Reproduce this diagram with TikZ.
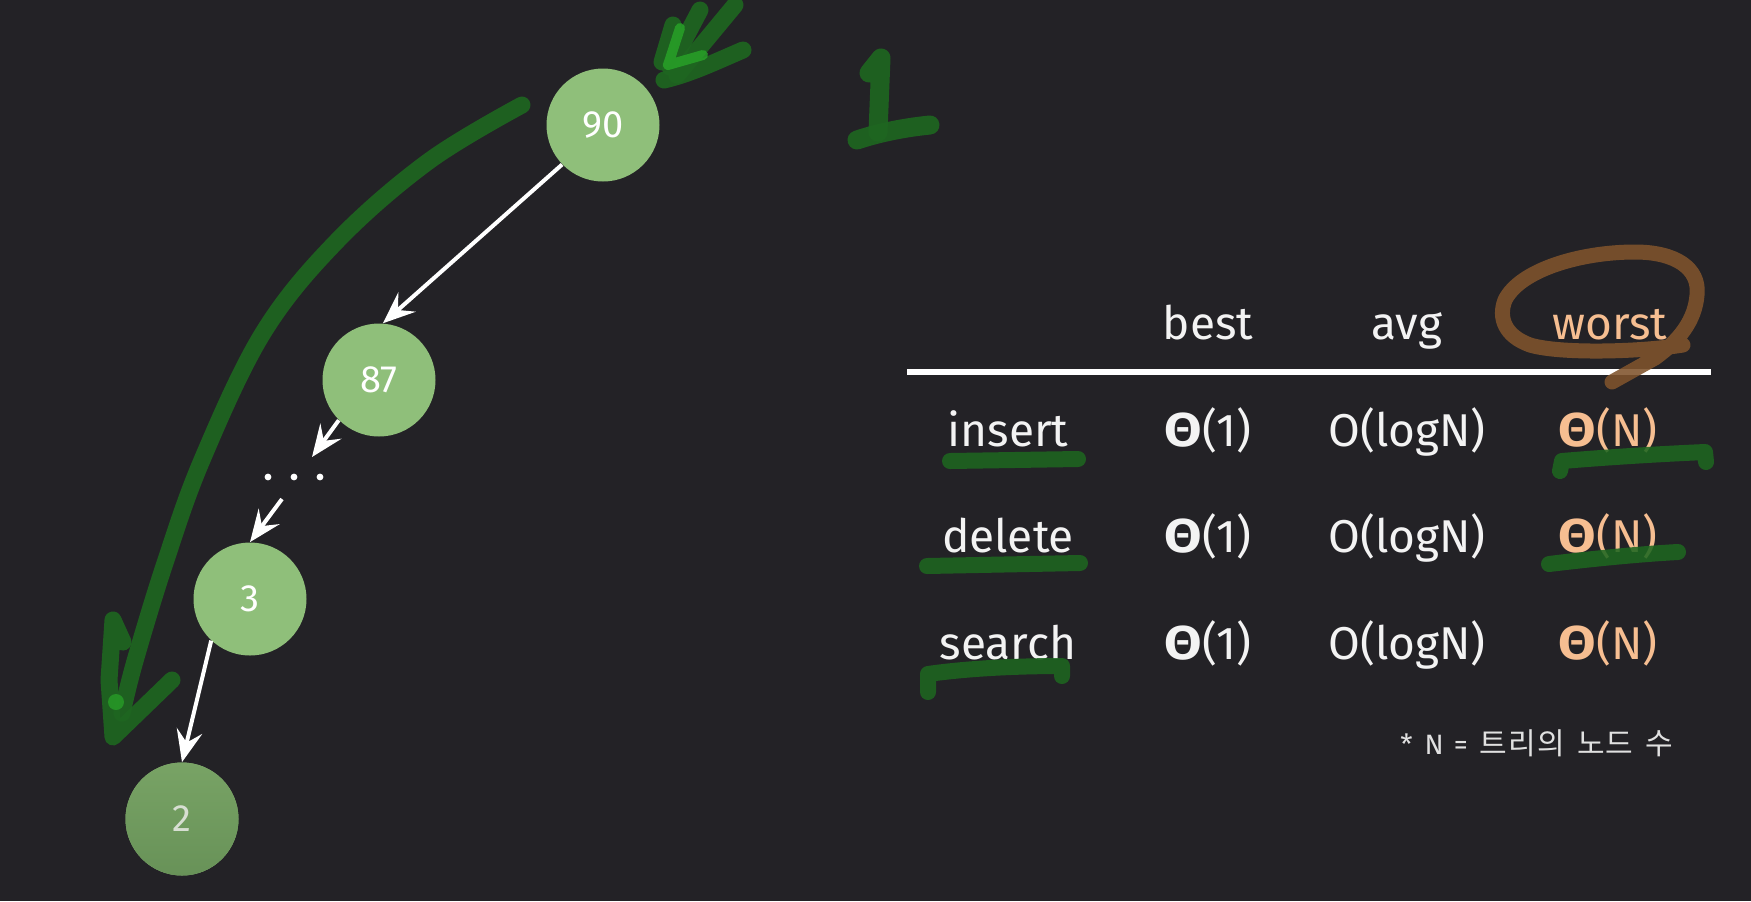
\documentclass[tikz,border=0pt]{standalone}
\usepackage{fontspec}
\usepackage{graphicx}
\setmainfont{Fira Sans}
\newfontfamily\krfont{Noto Sans CJK KR}
\newfontfamily\thfont{Fira Sans Bold}
\usetikzlibrary{arrows.meta}
\definecolor{bg}{RGB}{35,34,38}
\definecolor{ngreen}{RGB}{143,191,122}
\definecolor{ngreenA}{RGB}{120,163,101}
\definecolor{ngreenB}{RGB}{104,146,88}
\definecolor{mgreen}{RGB}{30,102,32}
\definecolor{bgreen}{RGB}{40,165,40}
\definecolor{mbrown}{RGB}{128,84,44}
\definecolor{orng}{RGB}{246,190,145}
\definecolor{txt}{RGB}{243,243,243}
\newcommand\Th{{\thfont\scalebox{1.18}[1.03]{Θ}}}
\begin{document}
\begin{tikzpicture}[x=0.5pt,y=-0.5pt,
  tnode/.style={circle, fill=ngreen, minimum size=56.5pt, inner sep=0pt, text=white,
    font=\fontsize{19}{21}\selectfont},
  tarrow/.style={draw=white, line width=2pt, -{Stealth[length=16pt,width=13pt,inset=6pt]}},
  tt/.style={anchor=base, inner sep=0pt, text=txt, font=\fontsize{23}{26}\selectfont},
  mk/.style={draw=mgreen, line width=8.5pt, line cap=round, line join=round, draw opacity=0.92},
  ul/.style={draw=mgreen, line width=8pt, line cap=round, line join=round, draw opacity=0.88},
  bk/.style={draw=mbrown, line width=7.5pt, line cap=round, line join=round, draw opacity=0.88}]
\fill[bg] (0,0) rectangle (1751,901);
\useasboundingbox (0,0) rectangle (1751,901);

% tree nodes
\node[tnode] (n90) at (603,125) {90};
\node[tnode] (n87) at (379,380) {87};
\node[tnode] (n3) at (250,599) {3};
\node[tnode, top color=ngreenA, bottom color=ngreenB, text={rgb,255:red,215;green,222;blue,210}] (n2) at (182,819) {2};

% dots
\coordinate (dots) at (294,477);
\fill[white] (268,477) circle (1.7pt) (294,477) circle (1.7pt) (320,477) circle (1.7pt);
\coordinate (a1) at (312,457);
\coordinate (a2) at (282,499);

% tree arrows
\draw[tarrow] (n90.224) -- (n87.86);
\draw[tarrow] (n87.225) -- (a1);
\draw[tarrow] (a2) -- (n3.north);
\draw[tarrow] (n3.227) -- (n2.north);

% big green curved arrow
\draw[mk] plot[smooth, tension=0.6] coordinates {(522,105) (429,161) (337,241) (263,333) (202,460) (165,563) (135,661) (122,713)};
\draw[mk] (123,642) -- (113,620) -- (109,680) -- (113,737) -- (172,680);
\fill[bgreen, opacity=0.7] (116,702) circle (4pt);

% top double arrow mark
\draw[mk] (673,25) -- (662,62);
\draw[mk] (700,10) -- (670,67);
\draw[mk] (735,5) -- (677,75);
\draw[mk] (664,80) .. controls (690,74) and (715,62) .. (743,50);
\draw[draw=bgreen, line width=5pt, line cap=round, line join=round, draw opacity=0.8] (680,28) -- (668,65) -- (703,55);

% hand-drawn "1"
\draw[mk, line width=9.5pt] (869,73) -- (881,58) -- (878,132);
\draw[mk, line width=9.5pt] (857,140) .. controls (875,134) and (900,128) .. (930,125);

% table rule
\draw[white, line width=2.6pt] (907,372) -- (1711,372);

% brown loop around "worst"
\draw[bk] (1683,345) .. controls (1640,352) and (1560,354) .. (1530,345)
  .. controls (1505,336) and (1498,318) .. (1505,300)
  .. controls (1520,270) and (1580,252) .. (1635,252)
  .. controls (1675,252) and (1700,268) .. (1697,295)
  .. controls (1695,320) and (1680,340) .. (1655,358)
  -- (1612,382);

% header
\node[tt] (hbest) at (1208,339) {best};
\node[tt] (havg) at (1407,339) {avg};
\node[tt, text=orng] (hworst) at (1610,339) {worst};

% rows
\node[tt] (r1) at (1008,446) {insert};
\node[tt] (r1b) at (1208,446) {\Th(1)};
\node[tt] (r1a) at (1407,446) {O(logN)};
\node[tt, text=orng] (r1w) at (1608,446) {\Th(N)};

\node[tt] (r2) at (1008,552) {delete};
\node[tt] (r2b) at (1208,552) {\Th(1)};
\node[tt] (r2a) at (1407,552) {O(logN)};
\node[tt, text=orng] (r2w) at (1608,552) {\Th(N)};

\node[tt] (r3) at (1008,659) {search};
\node[tt] (r3b) at (1208,659) {\Th(1)};
\node[tt] (r3a) at (1407,659) {O(logN)};
\node[tt, text=orng] (r3w) at (1608,659) {\Th(N)};

% footnote
\node[anchor=base west, inner sep=0pt, text={rgb,255:red,225;green,225;blue,225}, font=\fontsize{14}{16}\selectfont] (fn) at (1400,754) {*\hspace{6pt}N\hspace{5pt}=\hspace{6pt}{\krfont\fontsize{15}{17}\selectfont 트\hspace{0.6pt}리\hspace{0.6pt}의\hspace{6pt}노\hspace{0.6pt}드\hspace{6pt}수}};

% green underlines
\draw[ul] (950,461) -- (1078,459);
\draw[ul] (927,566) -- (1080,563);
\draw[ul] (928,692) -- (928,674) .. controls (970,668) and (1020,666) .. (1062,666) -- (1062,676);
\draw[ul] (1560,471) -- (1562,461) .. controls (1610,457) and (1660,454) .. (1705,452) -- (1706,462);
\draw[ul] (1549,564) .. controls (1590,559) and (1640,554) .. (1678,552);
\end{tikzpicture}
\end{document}
